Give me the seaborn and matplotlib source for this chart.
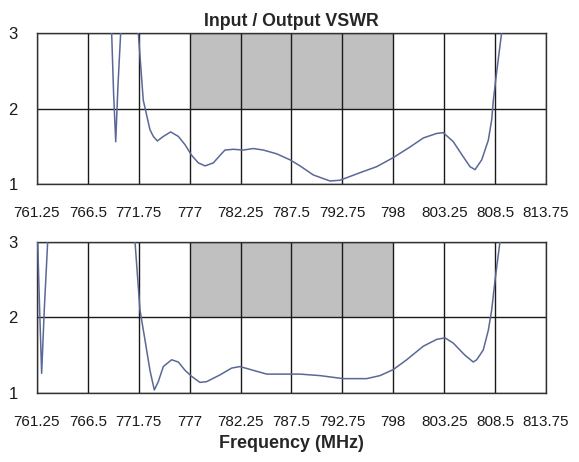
import numpy as np
import pandas as pd
import seaborn as sns
import matplotlib.pyplot as plt

# ticks / band
freq_ticks = [761.25, 766.5, 771.75, 777, 782.25, 787.5, 792.75, 798, 803.25, 808.5, 813.75]
tick_labels = ['761.25', '766.5', '771.75', '777', '782.25', '787.5', '792.75', '798', '803.25', '808.5', '813.75']
vswr_ticks = [1, 2, 3]
band_lo, band_hi = 777, 798

# input VSWR (top)
freq_top = [768.8, 768.95, 769.15, 769.37, 769.6, 769.88, 770.2, 770.8, 771.4, 771.7, 772.21, 772.9,
            773.25, 773.66, 774.28, 775.04, 775.83, 776.52, 777.2, 777.89, 778.58, 779.44, 780.13,
            780.64, 781.5, 782.53, 783.56, 784.59, 785.97, 787.35, 788.38, 789.75, 791.47, 792.5,
            794.57, 796.29, 798.0, 799.72, 801.1, 802.48, 803.16, 804.19, 805.22, 805.91, 806.43,
            807.12, 807.8, 808.15, 808.32, 808.65, 809.17, 809.5]
vswr_top = [3.6, 3.0, 2.2, 1.56, 2.3, 3.0, 3.6, 5.0, 3.6, 3.0, 2.11, 1.72,
            1.63, 1.57, 1.63, 1.69, 1.63, 1.52, 1.38, 1.28, 1.24, 1.28, 1.38,
            1.45, 1.46, 1.45, 1.47, 1.45, 1.40, 1.32, 1.24, 1.12, 1.04, 1.05,
            1.15, 1.23, 1.35, 1.49, 1.61, 1.67, 1.68, 1.56, 1.36, 1.23, 1.19,
            1.32, 1.58, 1.85, 2.11, 2.47, 3.0, 3.4]

# output VSWR (bottom)
freq_bot = [761.25, 761.32, 761.5, 761.73, 762.0, 762.35, 762.7, 766.0, 771.0, 771.36, 771.87,
            772.39, 772.9, 773.35, 773.76, 774.28, 775.14, 775.83, 776.52, 777.2, 778.06, 778.75,
            780.13, 781.33, 782.19, 783.56, 784.94, 788.38, 790.44, 792.84, 795.25, 796.63, 798.0,
            799.38, 801.1, 802.48, 803.33, 804.19, 805.39, 806.25, 806.6, 807.28, 807.8, 808.15,
            808.5, 809.0, 809.3]
vswr_bot = [3.3, 3.0, 2.2, 1.26, 2.1, 3.0, 3.6, 5.0, 3.6, 3.0, 2.10,
            1.70, 1.30, 1.04, 1.15, 1.35, 1.44, 1.41, 1.30, 1.22, 1.14, 1.15,
            1.24, 1.33, 1.35, 1.30, 1.25, 1.25, 1.23, 1.19, 1.19, 1.23, 1.31,
            1.44, 1.62, 1.71, 1.73, 1.66, 1.50, 1.41, 1.44, 1.57, 1.83, 2.10,
            2.50, 3.0, 3.4]

df_top = pd.DataFrame({'Frequency': freq_top, 'VSWR': vswr_top})
df_bot = pd.DataFrame({'Frequency': freq_bot, 'VSWR': vswr_bot})

sns.set_style('white')
plt.rcParams['font.family'] = ['Liberation Sans', 'DejaVu Sans']

fig = plt.figure(figsize=(5.79, 4.62), dpi=100)
ax1 = fig.add_axes([0.0639, 0.6017, 0.8791, 0.3269])
ax2 = fig.add_axes([0.0639, 0.1494, 0.8791, 0.3268])

line_color = '#5a6896'

for ax, d in [(ax1, df_top), (ax2, df_bot)]:
    ax.axvspan(band_lo, band_hi, ymin=0.5, ymax=1.0, color='#c0c0c0', lw=0, zorder=0)
    sns.lineplot(x='Frequency', y='VSWR', data=d, ax=ax, color=line_color, linewidth=1.1,
                 sort=False, zorder=3)
    ax.set_xlim(freq_ticks[0], freq_ticks[-1])
    ax.set_ylim(1, 3)
    ax.set_xticks(freq_ticks)
    ax.set_xticklabels(tick_labels)
    ax.set_yticks(vswr_ticks)
    ax.grid(True, color='#1a1a1a', linewidth=1.0, zorder=1)
    for s in ax.spines.values():
        s.set_color('#333333')
        s.set_linewidth(1.0)
        s.set_zorder(2)
    ax.tick_params(axis='both', length=0, colors='#1a1a1a')
    ax.tick_params(axis='x', pad=16, labelsize=11)
    ax.tick_params(axis='y', pad=14, labelsize=12)
    ax.set_xlabel('')
    ax.set_ylabel('')
    for gl in ax.get_xgridlines() + ax.get_ygridlines():
        gl.set_zorder(1)

ax1.set_title('Input / Output VSWR', fontsize=12.8, fontweight='bold', pad=5)
ax2.set_xlabel('Frequency (MHz)', fontsize=13, fontweight='bold', labelpad=4)

fig.savefig('out.png', dpi=100)
